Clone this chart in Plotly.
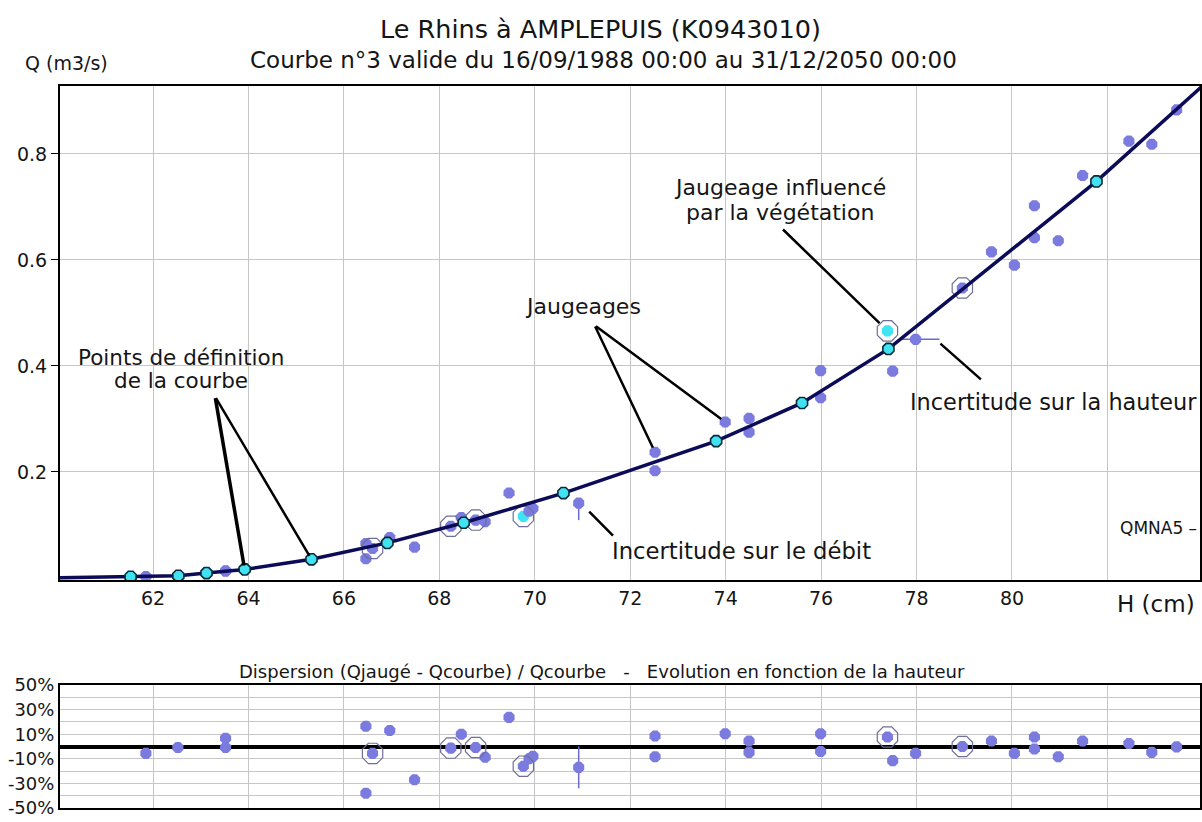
import plotly.graph_objects as go

# ---------------- data ----------------
# Rating-curve definition points (H in cm, Q in m3/s)
def_h = [61.53, 62.53, 63.12, 63.92, 65.32, 66.91, 68.51, 70.60, 73.80, 75.60, 77.41, 81.77]
def_q = [0.002, 0.004, 0.009, 0.016, 0.035, 0.066, 0.104, 0.160, 0.258, 0.330, 0.432, 0.748]
# curve ends (left on the axis, right beyond the frame)
curve_h = [60.0] + def_h + [84.2]
curve_q = [0.0] + def_q + [0.945]

# Gaugings (jaugeages)
jaug_h = [61.85, 62.52, 63.52, 63.52, 66.46, 66.46, 66.60, 66.96, 67.48, 68.24,
          68.46, 68.76, 68.96, 69.46, 69.76, 69.88, 69.96, 70.92, 72.52, 72.52,
          73.99, 74.49, 74.49, 75.99, 75.99, 77.39, 77.50, 77.98, 78.96, 79.57,
          80.05, 80.47, 80.47, 80.97, 81.48, 82.45, 82.93, 83.45]
jaug_q = [0.0026, 0.0040, 0.0134, 0.0124, 0.065, 0.036, 0.0555, 0.076, 0.058, 0.0975,
          0.114, 0.109, 0.106, 0.160, 0.116, 0.126, 0.131, 0.141, 0.237, 0.202,
          0.294, 0.301, 0.275, 0.391, 0.340, 0.466, 0.390, 0.450, 0.547, 0.615,
          0.590, 0.702, 0.642, 0.636, 0.759, 0.824, 0.818, 0.883]
# dispersion (Qjaugé - Qcourbe)/Qcourbe in %
jaug_res = [-5.6, -0.8, 6.7, -0.8, 16.5, -38, -5.6, 13, -27, -1.3,
            10, -0.8, -8.8, 23.7, -16, -10, -8, -17, 8.5, -8.3,
            10.4, 4.5, -4.8, 10.4, -4.0, 7.7, -11.5, -5.6, 0.0, 4.5,
            -5.6, 7.7, -2.0, -8.3, 4.5, 2.4, -4.8, -0.3]
# kind: n = normal, r = circled, v = influenced by vegetation
jaug_kind = ["n", "n", "n", "n", "n", "n", "r", "n", "n", "r",
             "n", "r", "n", "n", "v", "n", "n", "n", "n", "n",
             "n", "n", "n", "n", "n", "v", "n", "n", "r", "n",
             "n", "n", "n", "n", "n", "n", "n", "n"]
# uncertainties
jaug_dq_plus = [0] * 17 + [0.006] + [0] * 20
jaug_dq_minus = [0] * 17 + [0.032] + [0] * 20
jaug_dh_plus = [0] * 27 + [0.5] + [0] * 10
jaug_dh_minus = [0] * 27 + [0.3] + [0] * 10
jaug_dres = [0] * 17 + [17] + [0] * 20

qmna5 = 0.094

x_ticks = [62, 64, 66, 68, 70, 72, 74, 76, 78, 80, 82]
x_ticktext = ["62", "64", "66", "68", "70", "72", "74", "76", "78", "80", ""]
y_ticks = [0.2, 0.4, 0.6, 0.8]
y_ticktext = ["0.2", "0.4", "0.6", "0.8"]
res_ticks = [50, 30, 10, -10, -30, -50]
res_ticktext = ["50%", "30%", "10%", "-10%", "-30%", "-50%"]

# ---------------- style ----------------
W, H = 1202, 822
FONT = "DejaVu Sans"
PURPLE = "#7A7ADF"
CYAN = "#3FE3F2"
NAVY = "#0B0B58"
GRID = "#C6C6C6"
INK = "#151515"


def px(x):
    return x / W


def py(y):
    return 1 - y / H


fig = go.Figure()

ring_idx = [i for i, k in enumerate(jaug_kind) if k in ("r", "v")]

# main panel ---------------------------------------------------------
fig.add_trace(go.Scatter(
    x=jaug_h, y=jaug_q, mode="markers", xaxis="x", yaxis="y",
    marker=dict(symbol="octagon", size=12,
                color=[CYAN if k == "v" else PURPLE for k in jaug_kind],
                line=dict(width=0)),
    error_y=dict(type="data", symmetric=False, array=jaug_dq_plus,
                 arrayminus=jaug_dq_minus, color="#6A6AD0", thickness=1.5, width=0),
    error_x=dict(type="data", symmetric=False, array=jaug_dh_plus,
                 arrayminus=jaug_dh_minus, color="#6A6AD0", thickness=1.5, width=0),
    name="Jaugeages"))
fig.add_trace(go.Scatter(
    x=[jaug_h[i] for i in ring_idx], y=[jaug_q[i] for i in ring_idx],
    mode="markers", xaxis="x", yaxis="y",
    marker=dict(symbol="octagon-open", size=22, color="#6E6E96",
                line=dict(width=1.2, color="#6E6E96")),
    hoverinfo="skip"))
fig.add_trace(go.Scatter(
    x=curve_h, y=curve_q, mode="lines", xaxis="x", yaxis="y",
    line=dict(color=NAVY, width=3.5), name="Courbe"))
fig.add_trace(go.Scatter(
    x=def_h, y=def_q, mode="markers", xaxis="x", yaxis="y",
    marker=dict(symbol="octagon", size=12, color=CYAN,
                line=dict(width=1.6, color="#0A2A3A")),
    name="Points de définition"))

# dispersion panel -----------------------------------------------------
fig.add_trace(go.Scatter(
    x=jaug_h, y=jaug_res, mode="markers", xaxis="x2", yaxis="y2",
    marker=dict(symbol="octagon", size=12, color=PURPLE, line=dict(width=0)),
    error_y=dict(type="data", array=jaug_dres, color="#6A6AD0", thickness=1.5, width=0),
    name="Dispersion"))
fig.add_trace(go.Scatter(
    x=[jaug_h[i] for i in ring_idx], y=[jaug_res[i] for i in ring_idx],
    mode="markers", xaxis="x2", yaxis="y2",
    marker=dict(symbol="octagon-open", size=22, color="#6E6E96",
                line=dict(width=1.2, color="#6E6E96")),
    hoverinfo="skip"))

axis_common = dict(showline=True, mirror=True, linecolor="black", linewidth=2,
                   gridcolor=GRID, gridwidth=1, showgrid=True, zeroline=False,
                   automargin=False,
                   tickfont=dict(family=FONT, size=19, color=INK))

fig.update_layout(
    template="none",
    width=W, height=H, showlegend=False, autosize=False,
    margin=dict(l=0, r=0, t=0, b=0, pad=0, autoexpand=False),
    paper_bgcolor="white", plot_bgcolor="white",
    font=dict(family=FONT, size=19, color=INK),
    xaxis=dict(domain=[px(60), px(1200)], range=[60.05, 83.94], anchor="y",
               tickmode="array", tickvals=x_ticks, ticktext=x_ticktext,
               ticks="", **axis_common),
    yaxis=dict(domain=[py(580), py(86)], range=[-0.004, 0.928], anchor="x",
               tickmode="array", tickvals=y_ticks, ticktext=y_ticktext,
               ticks="outside", ticklen=7, tickcolor="black", **axis_common),
    xaxis2=dict(domain=[px(60), px(1200)], range=[60.05, 83.94], anchor="y2",
                tickmode="array", tickvals=x_ticks, showticklabels=False,
                ticks="", **axis_common),
    yaxis2=dict(domain=[py(808), py(685)], range=[-50, 50], anchor="x2",
                tickmode="array", tickvals=res_ticks, ticktext=res_ticktext,
                ticks="", minor=dict(dtick=10, tick0=0, showgrid=True,
                                     gridcolor=GRID, gridwidth=1),
                **{**axis_common, "zeroline": True, "zerolinecolor": "black",
                   "zerolinewidth": 3.5,
                   "tickfont": dict(family=FONT, size=18, color=INK)}),
)

ann = []


def text(x, y, s, xref="paper", yref="paper", xanchor="center", size=22):
    ann.append(dict(x=x, y=y, xref=xref, yref=yref, text=s, showarrow=False,
                    xanchor=xanchor, yanchor="middle",
                    font=dict(family=FONT, size=size, color=INK)))


def line(x0, y0, x1, y1, w=2.5, standoff=0):
    ann.append(dict(x=x1, y=y1, ax=x0, ay=y0, xref="x", yref="y",
                    axref="x", ayref="y", text="", showarrow=True,
                    arrowhead=0, arrowwidth=w, arrowcolor="black",
                    standoff=standoff))


# titles
text(px(600), py(29), "Le Rhins à AMPLEPUIS (K0943010)", size=25.5)
text(px(603), py(60), "Courbe n°3 valide du 16/09/1988 00:00 au 31/12/2050 00:00", size=23)
text(px(66), py(63), "Q (m3/s)", size=19)
text(px(1156), py(604), "H (cm)", size=23)
text(px(602), py(671),
     "Dispersion (Qjaugé - Qcourbe) / Qcourbe   -   Evolution en fonction de la hauteur",
     size=18)

# callouts
text(px(181), py(357), "Points de définition", size=21.5)
text(px(181), py(381), "de la courbe", size=21.5)
line(63.30, 0.342, def_h[3], def_q[3], w=3.5, standoff=4)
line(63.30, 0.342, def_h[4], def_q[4], w=2.5, standoff=4)

text(px(583), py(307), "Jaugeages", size=22)
line(71.25, 0.477, jaug_h[18], jaug_q[18], w=2.5, standoff=5)
line(71.25, 0.477, jaug_h[20], jaug_q[20], w=2.5, standoff=5)

text(px(780), py(188), "Jaugeage influencé", size=22)
text(px(780), py(213), "par la végétation", size=22)
line(75.17, 0.660, jaug_h[25], jaug_q[25], w=2.5, standoff=11)

text(px(1053), py(402), "Incertitude sur la hauteur", size=22.4)
line(79.38, 0.372, 78.50, 0.442, w=2.5)

text(px(741), py(551), "Incertitude sur le débit", size=22.7)
line(71.67, 0.077, 71.14, 0.125, w=2.5)

ann.append(dict(x=px(1199), y=qmna5, xref="paper", yref="y", text="QMNA5 –",
                showarrow=False, xanchor="right", yanchor="middle",
                font=dict(family=FONT, size=17, color=INK)))

fig.update_layout(annotations=ann)

fig.write_html("out.html", config={"displayModeBar": False},
               post_script="document.body.style.margin='0';document.body.style.overflow='hidden';")
